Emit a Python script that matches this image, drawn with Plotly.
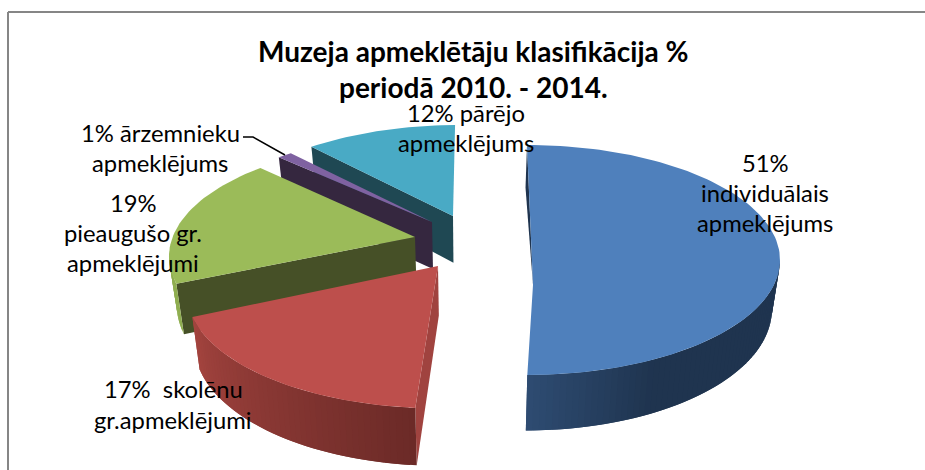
import math
import plotly.graph_objects as go

# ---- data ----
categories = ["individuālais apmeklējums", "skolēnu gr.apmeklējumi", "pieaugušo gr. apmeklējumi",
              "ārzemnieku apmeklējums", "pārējo apmeklējums"]
shares = [51, 17, 19, 1, 12]
title_lines = ["Muzeja apmeklētāju klasifikācija %", "periodā 2010. - 2014."]
label_lines = [
    ["51%", "individuālais", "apmeklējums"],
    ["17%  skolēnu", "gr.apmeklējumi"],
    ["19%", "pieaugušo gr.", "apmeklējumi"],
    ["1% ārzemnieku", "apmeklējums"],
    ["12% pārējo", "apmeklējums"],
]

# ---- styling / projection of the tilted, exploded pie (pixel axes) ----
top_colors = ["#4f80bc", "#bd4f4c", "#9bbb59", "#7f62a1", "#49aac5"]
face_colors = ["#1f344f", "#a0433f", "#465027", "#35273f", "#1f4853"]
wall_from = ["#1f344f", "#a4443f", "#8fae50", "#35273f", "#1f4853"]   # colour at the left of the front wall
wall_to = ["#2e4c72", "#6b2a27", "#8fae50", "#35273f", "#1f4853"]     # colour at the bottom of the wall
ell_cx = [527, 440, 422, 437, 459.4]
ell_cy = [260, 293.5, 256.4, 247, 240]
apex_x = [533, 438, 415, 432, 453]
apex_y = [285, 266, 237, 222, 216]
ang_off = [0, 2, 11.4, 8.1, 7.4]
ang_stretch = [0.980, 1.186, 0.937, 0.944, 0.806]
apex_drops = [False, True, True, True, True]  # the blue slice's inner face pinches out at its apex
RX, RY = 253, 115
PIE_CX = 470


def rgb(h):
    return [int(h[i:i + 2], 16) for i in (1, 3, 5)]


def mix(a, b, t):
    ca, cb = rgb(a), rgb(b)
    return "rgb(%d,%d,%d)" % tuple(round(ca[i] + (cb[i] - ca[i]) * t) for i in range(3))


def lower(x, y):
    """Point on the bottom plane of the pie below a top-plane point."""
    return x + (PIE_CX - x) * 0.026, y + 42 + (y - 130) * 0.055


def poly(fig, xs, ys, color, name):
    fig.add_trace(go.Scatter(x=xs + xs[:1], y=ys + ys[:1], mode="lines", fill="toself", fillcolor=color,
                             line=dict(color=color, width=0), hoverinfo="text", text=name,
                             showlegend=False))


fig = go.Figure()

# cumulative start angle of each slice, derived from the shares
starts = []
c = 0
for s in shares:
    starts.append(c)
    c += s * 3.6

for i in [4, 3, 2, 1, 0]:  # back to front
    name = "%d%% %s" % (shares[i], categories[i])
    a0 = starts[i] + ang_off[i]
    a1 = a0 + shares[i] * 3.6 * ang_stretch[i]
    n = max(2, int((a1 - a0) / 1.5))
    angs = [a0 + (a1 - a0) * k / n for k in range(n + 1)]
    pts = [(ell_cx[i] + RX * math.sin(math.radians(a)), ell_cy[i] - RY * math.cos(math.radians(a))) for a in angs]

    # radial face on the starting side
    ax, ay = apex_x[i], apex_y[i]
    lax, lay = lower(ax, ay) if apex_drops[i] else (ax, ay)
    lsx, lsy = lower(*pts[0])
    poly(fig, [ax, pts[0][0], lsx, lax], [ay, pts[0][1], lsy, lay], face_colors[i], name)

    # outer wall, only where it faces the viewer; bands overlap the next one so no seams show
    lo, hi = max(a0, 90), min(a1, 270)
    if hi > lo:
        for k in range(n):
            if angs[k + 1] <= 90 or angs[k] >= 270:
                continue
            p = pts[k]
            q = pts[min(k + 2, n)]
            lp, lq = lower(*p), lower(*q)
            mid = (angs[k] + angs[k + 1]) / 2
            if i == 0:  # blue wall is flat until the front, then lightens
                col = mix(wall_from[i], wall_to[i], max(0.0, (mid - 150) / 30))
            else:
                col = mix(wall_from[i], wall_to[i], (hi - mid) / (hi - lo))
            poly(fig, [p[0], q[0], lq[0], lp[0]], [p[1], q[1], lq[1], lp[1]], col, name)

    # top surface
    poly(fig, [ax] + [p[0] for p in pts], [ay] + [p[1] for p in pts], top_colors[i], name)

FONT = "Lato"
anns = []
for txt, y in zip(title_lines, [51, 87]):
    anns.append(dict(x=473, y=y, text="<b>%s</b>" % txt, font=dict(size=28, color="#000000", family=FONT)))

label_pos = [(765, [163, 193, 223]), (173, [389, 420]), (133, [203, 233, 263]), (160, [133, 163]), (466, [113, 143])]
for lines, (x, ys) in zip(label_lines, label_pos):
    for t, y in zip(lines, ys):
        anns.append(dict(x=x, y=y, text=t, font=dict(size=23.8, color="#000000", family=FONT)))
for a in anns:
    a.update(xref="x", yref="y", showarrow=False, xanchor="center", yanchor="middle")

shapes = [
    dict(type="line", xref="x", yref="y", x0=8, y0=12, x1=925, y1=12, line=dict(color="#868686", width=2)),
    dict(type="line", xref="x", yref="y", x0=8, y0=12, x1=8, y1=470, line=dict(color="#868686", width=2)),
    dict(type="path", xref="x", yref="y", path="M243,137 L253,137 L285,155", line=dict(color="#000000", width=1.5)),
]

fig.update_layout(
    width=925, height=470, margin=dict(l=0, r=0, t=0, b=0), autosize=False,
    paper_bgcolor="white", plot_bgcolor="white", showlegend=False,
    xaxis=dict(range=[0, 925], visible=False, fixedrange=True),
    yaxis=dict(range=[470, 0], visible=False, fixedrange=True),
    annotations=anns, shapes=shapes,
)
fig.write_html("out.html", config={"displayModeBar": False},
               post_script="document.body.style.margin='0';")
